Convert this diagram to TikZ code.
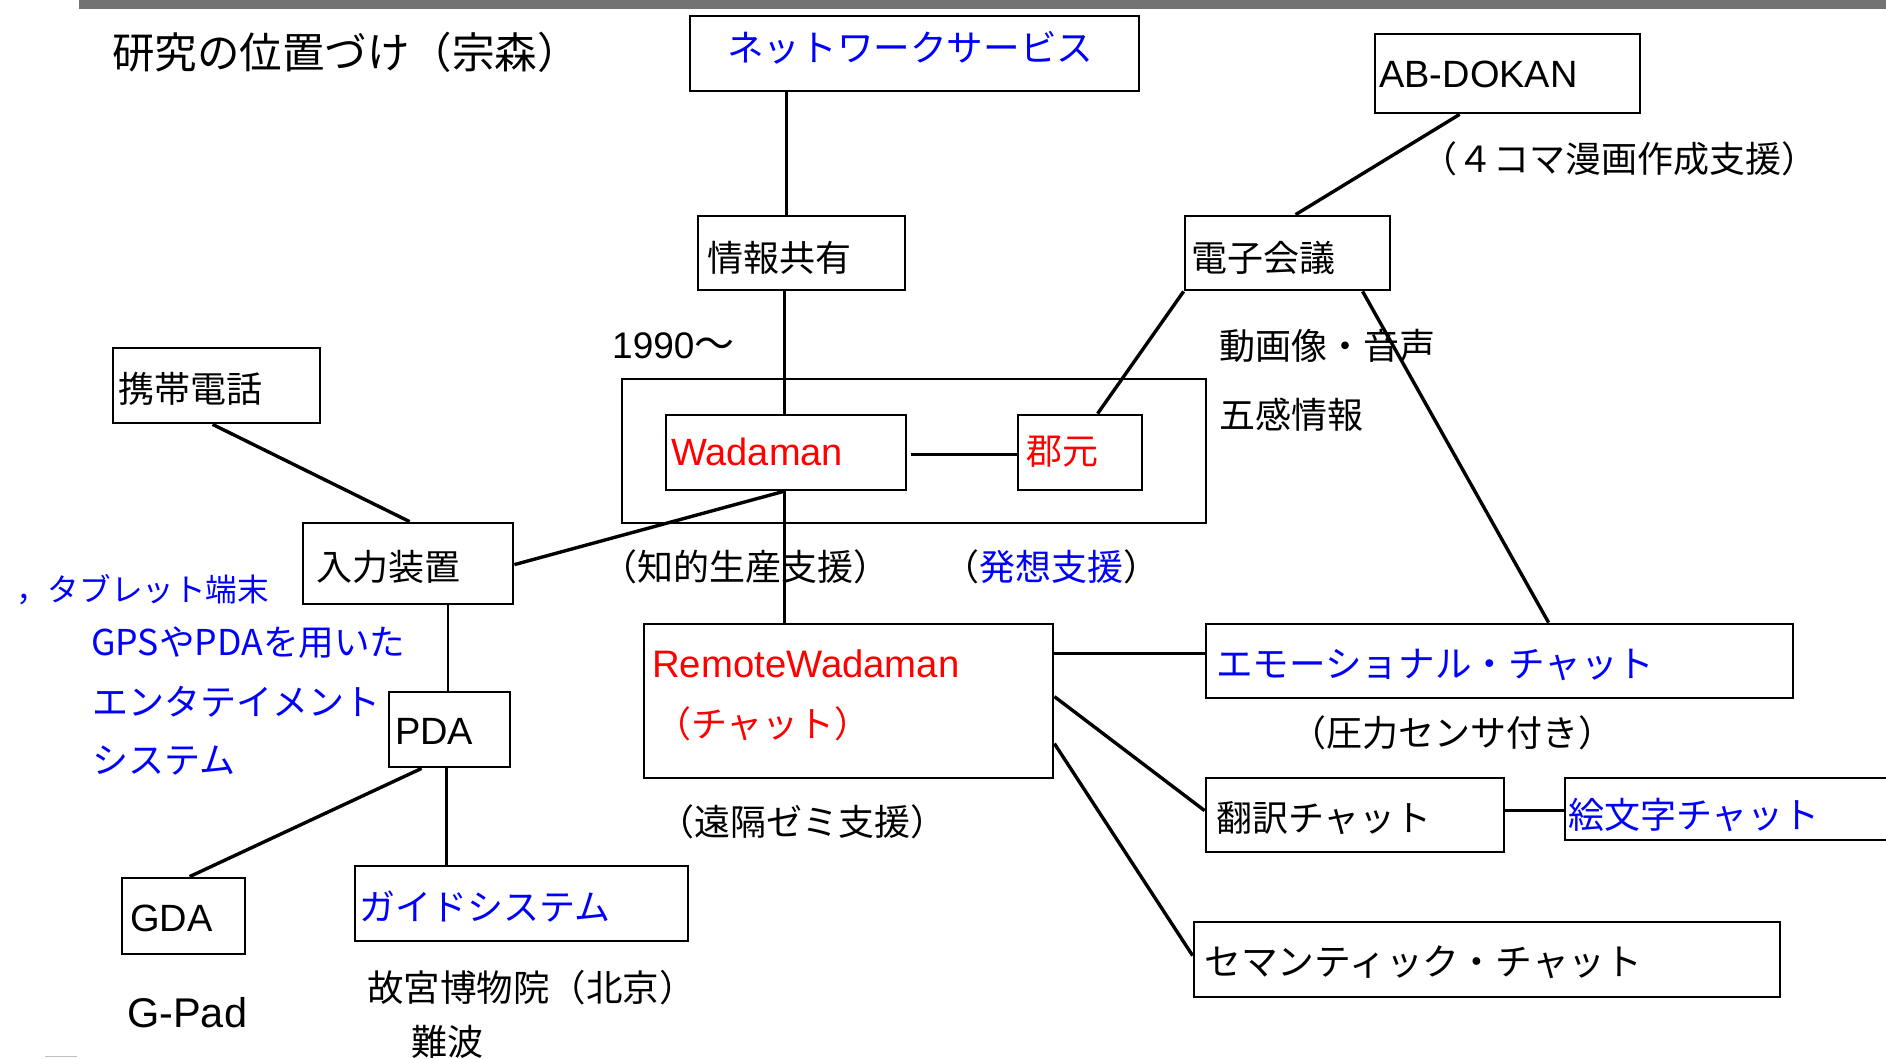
\documentclass[tikz,border=0pt]{standalone}
\usepackage{fontspec}
\setmainfont{Liberation Sans}
\newfontfamily\jp{Noto Sans CJK JP}
\usetikzlibrary{calc}
\definecolor{jblue}{RGB}{0,0,255}
\definecolor{jred}{RGB}{255,0,0}
\definecolor{bargray}{RGB}{115,115,115}
\begin{document}
\begin{tikzpicture}[x=1pt,y=-1pt,
  box/.style={draw=black, line width=2.8pt, inner sep=0pt},
  link/.style={line width=2.4pt},
  dlink/.style={line width=3.4pt},
  jt/.style={inner sep=0pt, anchor=west, font=\jp\fontsize{36}{40}\selectfont},
  jc/.style={inner sep=0pt, anchor=center, font=\jp\fontsize{36}{40}\selectfont},
  lt/.style={inner sep=0pt, anchor=west, font=\fontsize{38}{42}\selectfont},
]
\useasboundingbox (0,0) rectangle (1886,1058);
\clip (0,0) rectangle (1886,1058);
\fill[bargray] (79,0) rectangle (1886,9);

% boxes
\node[box, minimum width=449pt, minimum height=75pt] (net) at (914.5,53.5) {};
\node[box, minimum width=265pt, minimum height=79pt] (abd) at (1507.5,73.5) {};
\node[box, minimum width=207pt, minimum height=74pt] (info) at (801.5,253) {};
\node[box, minimum width=205pt, minimum height=74pt] (conf) at (1287.5,253) {};
\node[box, minimum width=207pt, minimum height=75pt] (keitai) at (216.5,385.5) {};
\node[box, minimum width=584pt, minimum height=144pt] (big) at (914,451) {};
\node[box, minimum width=240pt, minimum height=75pt] (wada) at (786,452.5) {};
\node[box, minimum width=124pt, minimum height=75pt] (kori) at (1080,452.5) {};
\node[box, minimum width=210pt, minimum height=81pt] (input) at (408,563.5) {};
\node[box, minimum width=409pt, minimum height=154pt] (remote) at (848.5,701) {};
\node[box, minimum width=587pt, minimum height=74pt] (emo) at (1499.5,661) {};
\node[box, minimum width=121pt, minimum height=75pt] (pda) at (449.5,729.5) {};
\node[box, minimum width=298pt, minimum height=74pt] (honyaku) at (1355,815) {};
\node[box, minimum width=345pt, minimum height=62pt] (emoji) at (1737.5,809) {};
\node[box, minimum width=586pt, minimum height=75pt] (sem) at (1487,959.5) {};
\node[box, minimum width=123pt, minimum height=76pt] (gda) at (183.5,916) {};
\node[box, minimum width=333pt, minimum height=75pt] (guide) at (521.5,903.5) {};

% connectors
\draw[link] ($(net.south west)+(98,0)$) -- ($(info.north west)+(90,0)$);
\draw[link] ($(info.south west)+(88,0)$) -- ($(wada.north west)+(120,0)$);
\draw[link] ($(wada.south west)+(120,0)$) -- ($(remote.north west)+(142,0)$);
\draw[link] ($(wada.north east)+(4,41)$) -- ($(kori.north west)+(0,41)$);
\draw[dlink] ($(kori.north west)+(81,0)$) -- (conf.south west);
\draw[dlink] ($(abd.south west)+(86,0)$) -- ($(conf.north west)+(112,0)$);
\draw[dlink] ($(conf.south west)+(179,0)$) -- ($(emo.north west)+(344,0)$);
\draw[dlink] ($(keitai.south west)+(101,0)$) -- ($(input.north west)+(108,0)$);
\draw[dlink] ($(input.north east)+(0,43)$) -- ($(wada.south west)+(119,0)$);
\draw[link] ($(input.south)+(40,0)$) -- ($(pda.north)+(-1.5,0)$);
\draw[dlink] ($(pda.south west)+(34,0)$) -- ($(gda.north west)+(69,0)$);
\draw[link] ($(pda.south west)+(59,0)$) -- ($(guide.north west)+(93,0)$);
\draw[link] ($(remote.north east)+(0,31)$) -- ($(emo.north west)+(0,31)$);
\draw[dlink] ($(remote.north east)+(0,74)$) -- ($(honyaku.north west)+(0,34)$);
\draw[dlink] ($(remote.north east)+(0,121)$) -- ($(sem.north west)+(0,35)$);
\draw[link] ($(honyaku.north east)+(0,34)$) -- ($(emoji.north west)+(0,34)$);

% texts
\node[jt, anchor=west, font=\jp\fontsize{42.5}{46}\selectfont] (title) at (112,52) {研究の位置づけ（宗森）};
\node[jt, text=jblue, font=\jp\fontsize{36.6}{40}\selectfont] (tnet) at (727,47.5) {ネットワークサービス};
\node[lt] (tabd) at (1379,74.5) {AB-DOKAN};
\node[jc] (t4koma) at (1619.5,159) {（４コマ漫画作成支援）};
\node[jt] (tinfo) at (707,257.5) {情報共有};
\node[jt] (tconf) at (1191,257.5) {電子会議};
\node[lt, font=\fontsize{37}{40}\selectfont] (t1990) at (612,346) {1990\jp\fontsize{40}{40}\selectfont 〜};
\node[jt] (tdouga) at (1219,346) {動画像・音声};
\node[jt] (tgokan) at (1219,415) {五感情報};
\node[jt] (tkeitai) at (118,389) {携帯電話};
\node[lt, text=jred] (twada) at (671,452) {Wadaman};
\node[jt, text=jred] (tkori) at (1026,452) {郡元};
\node[jt] (tinput) at (316,567) {入力装置};
\node[jc] (tchiteki) at (745,566.5) {（知的生産支援）};
\node[jc] (thassou) at (1051,566.5) {（\textcolor{jblue}{発想支援}）};
\node[lt, text=jred, font=\fontsize{38.3}{42}\selectfont] (tremote) at (652,664) {RemoteWadaman};
\node[jc, text=jred] (tchat) at (763,724) {（チャット）};
\node[jc] (tenkaku) at (802,822) {（遠隔ゼミ支援）};
\node[jt, text=jblue, font=\jp\fontsize{36.6}{40}\selectfont] (temo) at (1216,665) {エモーショナル・チャット};
\node[jc] (tatsu) at (1452,733) {（圧力センサ付き）};
\node[jt] (thonyaku) at (1216,818) {翻訳チャット};
\node[jt, text=jblue] (temoji) at (1568,815) {絵文字チャット};
\node[jt, font=\jp\fontsize{36.8}{40}\selectfont] (tsem) at (1204,962) {セマンティック・チャット};
\node[jt, text=jblue, font=\jp\fontsize{31.6}{35}\selectfont] (ttab) at (16,590) {，タブレット端末};
\node[jt, text=jblue, font=\jp\fontsize{35.6}{39}\selectfont] (tgps) at (91,643) {GPSやPDAを用いた};
\node[jt, text=jblue] (tent) at (92,702) {エンタテイメント};
\node[jt, text=jblue] (tsys) at (92,761) {システム};
\node[lt] (tpda) at (395,731) {PDA};
\node[lt] (tgda) at (130,918) {GDA};
\node[jt, text=jblue] (tguide) at (359,907) {ガイドシステム};
\node[jt, font=\jp\fontsize{36.5}{40}\selectfont] (tkokyu) at (367,988) {故宮博物院（北京）};
\node[jt] (tnamba) at (411,1042) {難波};
\node[lt, font=\fontsize{41.5}{45}\selectfont] (tgpad) at (127,1013) {G-Pad};
\draw[black!25, line width=1.5pt] (45,1056.5) -- (77,1056.5);
\end{tikzpicture}
\end{document}
